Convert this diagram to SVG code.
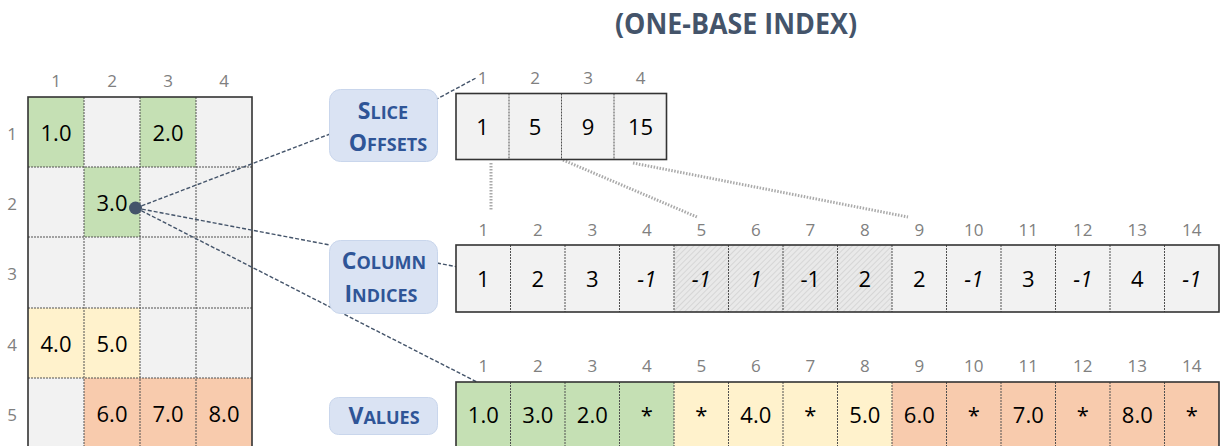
<svg xmlns="http://www.w3.org/2000/svg" width="1220" height="446" viewBox="0 0 1220 446">
<defs>
<style>
.hd{font-family:"Open Sans","Liberation Sans",sans-serif;font-size:17px;fill:#808080;text-anchor:middle}
.v{font-family:"Open Sans","Liberation Sans",sans-serif;font-size:22px;fill:#000;text-anchor:middle}
.it{font-style:italic}
.g{fill:#c5e0b4}.y{fill:#fff2cc}.o{fill:#f8cbad}.n{fill:#f2f2f2}
.sep{stroke:#505050;stroke-width:1;stroke-dasharray:2 1;fill:none}
.frame{fill:none;stroke:#333;stroke-width:1.6}
.lbl{fill:#dae3f3;stroke:#c9d6ec;stroke-width:1}
.lt{font-family:"Open Sans","Liberation Sans",sans-serif;font-weight:bold;fill:#2f5597;text-anchor:middle}
.big{font-size:23px}.sm{font-size:18px}
.dash{stroke:#44546a;stroke-width:1.4;stroke-dasharray:4 2;fill:none}
.dot{stroke:#aaaaaa;stroke-width:3;stroke-dasharray:1.5 1.5;fill:none}
</style>
<pattern id="hatch" width="4" height="4" patternUnits="userSpaceOnUse" patternTransform="rotate(45)">
<rect width="4" height="4" fill="#e9e9e9"/>
<line x1="0" y1="0" x2="0" y2="4" stroke="#d2d2d2" stroke-width="1.6"/>
</pattern>
</defs>
<rect width="1220" height="446" fill="#fff"/>

<g id="title">
<text x="736" y="34" font-family="'Open Sans','Liberation Sans',sans-serif" font-weight="bold" font-size="28" fill="#44546a" text-anchor="middle" textLength="242" lengthAdjust="spacingAndGlyphs">(ONE-BASE INDEX)</text>
</g>

<g id="matrix">
<g class="hd">
<text x="56" y="86.5">1</text><text x="112" y="86.5">2</text><text x="168" y="86.5">3</text><text x="224" y="86.5">4</text>
<text x="12" y="140">1</text><text x="12" y="210">2</text><text x="12" y="280">3</text><text x="12" y="351">4</text><text x="12" y="421">5</text>
</g>
<rect class="g" x="28" y="97" width="56" height="70"/><rect class="n" x="84" y="97" width="56" height="70"/><rect class="g" x="140" y="97" width="56" height="70"/><rect class="n" x="196" y="97" width="56" height="70"/>
<rect class="n" x="28" y="167" width="56" height="70"/><rect class="g" x="84" y="167" width="56" height="70"/><rect class="n" x="140" y="167" width="56" height="70"/><rect class="n" x="196" y="167" width="56" height="70"/>
<rect class="n" x="28" y="237" width="224" height="71"/>
<rect class="y" x="28" y="308" width="56" height="70"/><rect class="y" x="84" y="308" width="56" height="70"/><rect class="n" x="140" y="308" width="112" height="70"/>
<rect class="n" x="28" y="378" width="56" height="70"/><rect class="o" x="84" y="378" width="168" height="70"/>
<path class="sep" d="M84 97V448M140 97V448M196 97V448M28 167H252M28 237H252M28 308H252M28 378H252"/>
<rect class="frame" x="28" y="97" width="224" height="360"/>
<g class="v">
<text x="56" y="140.5">1.0</text><text x="168" y="140.5">2.0</text>
<text x="112" y="210.5">3.0</text>
<text x="56" y="351.5">4.0</text><text x="112" y="351.5">5.0</text>
<text x="112" y="421.5">6.0</text><text x="168" y="421.5">7.0</text><text x="224" y="421.5">8.0</text>
</g>
</g>

<g id="connectors">
<path class="dash" d="M136 208L330 134"/>
<path class="dash" d="M435 100L476 78"/>
<path class="dash" d="M136 208L330 245"/>
<path class="dash" d="M437 263L522 279"/>
<path class="dash" d="M136 208L522 405"/>
<path class="dot" d="M491 163V210"/>
<path class="dot" d="M563 160L697 217"/>
<path class="dot" d="M633 163L908 217"/>
<circle cx="135.5" cy="208" r="6.5" fill="#44546a"/>
</g>

<g id="slice-label">
<rect class="lbl" x="329.5" y="89.5" width="108" height="72" rx="11"/>
<text class="lt" x="383" y="119"><tspan class="big">S</tspan><tspan class="sm">LICE</tspan></text>
<text class="lt" x="388" y="151"><tspan class="big">O</tspan><tspan class="sm">FFSETS</tspan></text>
</g>

<g id="column-label">
<rect class="lbl" x="329.5" y="240.5" width="108" height="73" rx="11"/>
<text class="lt" x="384" y="269"><tspan class="big">C</tspan><tspan class="sm">OLUMN</tspan></text>
<text class="lt" x="381" y="302"><tspan class="big">I</tspan><tspan class="sm">NDICES</tspan></text>
</g>

<g id="values-label">
<rect class="lbl" x="329.5" y="397.5" width="108" height="37" rx="9"/>
<text class="lt" x="384" y="424"><tspan class="big">V</tspan><tspan class="sm">ALUES</tspan></text>
</g>

<g id="slice-offsets">
<g class="hd"><text x="482.5" y="84">1</text><text x="535" y="84">2</text><text x="588" y="84">3</text><text x="640.5" y="84">4</text></g>
<rect class="n" x="456" y="93.5" width="210.5" height="66"/>
<path class="sep" d="M509 93.5V159.5M561.5 93.5V159.5M614 93.5V159.5"/>
<rect class="frame" x="456" y="93.5" width="210.5" height="66"/>
<g class="v"><text x="482.5" y="135">1</text><text x="535" y="135">5</text><text x="588" y="135">9</text><text x="640.5" y="135">15</text></g>
</g>

<g id="column-indices">
<g class="hd">
<text x="483.3" y="235.5">1</text><text x="537.8" y="235.5">2</text><text x="592.3" y="235.5">3</text><text x="646.8" y="235.5">4</text><text x="701.3" y="235.5">5</text><text x="755.8" y="235.5">6</text><text x="810.3" y="235.5">7</text><text x="864.8" y="235.5">8</text><text x="919.3" y="235.5">9</text><text x="973.8" y="235.5">10</text><text x="1028.3" y="235.5">11</text><text x="1082.8" y="235.5">12</text><text x="1137.3" y="235.5">13</text><text x="1191.8" y="235.5">14</text>
</g>
<rect class="n" x="456" y="245" width="763" height="67"/>
<rect x="674" y="245" width="218" height="67" fill="url(#hatch)"/>
<path class="sep" d="M510.5 245V312M565 245V312M619.5 245V312M674 245V312M728.5 245V312M783 245V312M837.5 245V312M892 245V312M946.5 245V312M1001 245V312M1055.5 245V312M1110 245V312M1164.5 245V312"/>
<rect class="frame" x="456" y="245" width="763" height="67"/>
<g class="v">
<text x="483.3" y="287">1</text><text x="537.8" y="287">2</text><text x="592.3" y="287">3</text><text class="it" x="646.8" y="287">-1</text><text class="it" x="701.3" y="287">-1</text><text class="it" x="755.8" y="287">1</text><text x="810.3" y="287">-1</text><text x="864.8" y="287">2</text><text x="919.3" y="287">2</text><text class="it" x="973.8" y="287">-1</text><text x="1028.3" y="287">3</text><text class="it" x="1082.8" y="287">-1</text><text x="1137.3" y="287">4</text><text class="it" x="1191.8" y="287">-1</text>
</g>
</g>

<g id="values">
<g class="hd">
<text x="483.3" y="372">1</text><text x="537.8" y="372">2</text><text x="592.3" y="372">3</text><text x="646.8" y="372">4</text><text x="701.3" y="372">5</text><text x="755.8" y="372">6</text><text x="810.3" y="372">7</text><text x="864.8" y="372">8</text><text x="919.3" y="372">9</text><text x="973.8" y="372">10</text><text x="1028.3" y="372">11</text><text x="1082.8" y="372">12</text><text x="1137.3" y="372">13</text><text x="1191.8" y="372">14</text>
</g>
<rect class="g" x="456" y="382" width="218" height="70"/>
<rect class="y" x="674" y="382" width="218" height="70"/>
<rect class="o" x="892" y="382" width="327" height="70"/>
<path class="sep" d="M510.5 382V452M565 382V452M619.5 382V452M674 382V452M728.5 382V452M783 382V452M837.5 382V452M892 382V452M946.5 382V452M1001 382V452M1055.5 382V452M1110 382V452M1164.5 382V452"/>
<rect class="frame" x="456" y="382" width="763" height="80"/>
<g class="v">
<text x="483.3" y="423">1.0</text><text x="537.8" y="423">3.0</text><text x="592.3" y="423">2.0</text><text x="646.8" y="423">*</text><text x="701.3" y="423">*</text><text x="755.8" y="423">4.0</text><text x="810.3" y="423">*</text><text x="864.8" y="423">5.0</text><text x="919.3" y="423">6.0</text><text x="973.8" y="423">*</text><text x="1028.3" y="423">7.0</text><text x="1082.8" y="423">*</text><text x="1137.3" y="423">8.0</text><text x="1191.8" y="423">*</text>
</g>
</g>
</svg>
